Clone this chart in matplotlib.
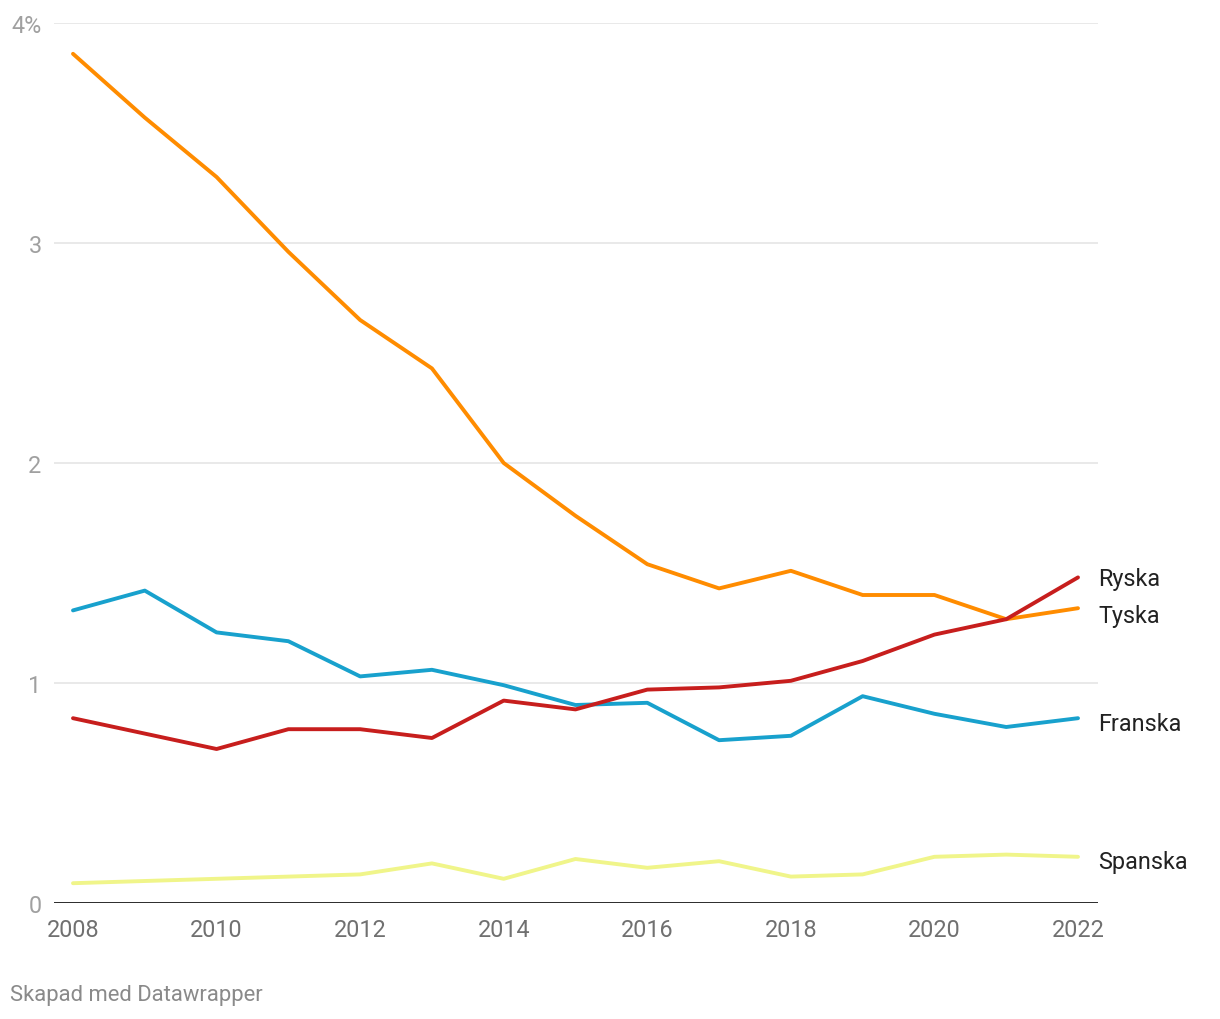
import matplotlib.pyplot as plt
import numpy as np

plt.rcParams['font.family'] = ['Roboto', 'DejaVu Sans']

years = np.arange(2008, 2023)

# andel (%) per språk
tyska = [3.86, 3.57, 3.30, 2.96, 2.65, 2.43, 2.00, 1.76, 1.54, 1.43, 1.51, 1.40, 1.40, 1.29, 1.34]
ryska = [0.84, 0.77, 0.70, 0.79, 0.79, 0.75, 0.92, 0.88, 0.97, 0.98, 1.01, 1.10, 1.22, 1.29, 1.48]
franska = [1.33, 1.42, 1.23, 1.19, 1.03, 1.06, 0.99, 0.90, 0.91, 0.74, 0.76, 0.94, 0.86, 0.80, 0.84]
spanska = [0.09, 0.10, 0.11, 0.12, 0.13, 0.18, 0.11, 0.20, 0.16, 0.19, 0.12, 0.13, 0.21, 0.22, 0.21]

series = [
    ("Spanska", spanska, "#f0f58a"),
    ("Franska", franska, "#18a1cd"),
    ("Tyska", tyska, "#ff8c00"),
    ("Ryska", ryska, "#c71e1d"),
]
# label nudges so the end labels don't collide
label_shift = {"Ryska": -0.005, "Tyska": -0.035, "Franska": -0.025, "Spanska": -0.02}

fig = plt.figure(figsize=(12.2, 10.2), dpi=100)
ax = fig.add_axes([54 / 1220, 116 / 1020, 1044 / 1220, 880 / 1020])

for name, vals, col in series:
    ax.plot(years, vals, color=col, lw=2.8, solid_capstyle='round', solid_joinstyle='round', zorder=3)
    ax.text(1.0, vals[-1] + label_shift[name], name, transform=ax.get_yaxis_transform(),
            ha='left', va='center', fontsize=16.8, color='#222222')

ax.set_xlim(2008 - 19 / 71.8, 2022 + 20 / 71.8)
ax.set_ylim(0, 4)

ax.set_yticks([0, 1, 2, 3, 4])
ax.set_yticklabels(['0', '1', '2', '3', '4%'])
ax.set_xticks(range(2008, 2023, 2))

ax.grid(axis='y', color='#e3e3e3', lw=1.1, zorder=0)
ax.axhline(0, color='#1a1a1a', lw=2, zorder=4)

for s in ax.spines.values():
    s.set_visible(False)

ax.tick_params(axis='y', length=0, pad=9, labelsize=16.8, labelcolor='#a0a0a0')
ax.tick_params(axis='x', length=0, pad=11, labelsize=16.8, labelcolor='#707070')

fig.text(10 / 1220, 1 - 996 / 1020, "Skapad med Datawrapper", fontsize=15.8, color='#8a8a8a',
         ha='left', va='center')

fig.savefig("out.png", dpi=100, facecolor='white')
